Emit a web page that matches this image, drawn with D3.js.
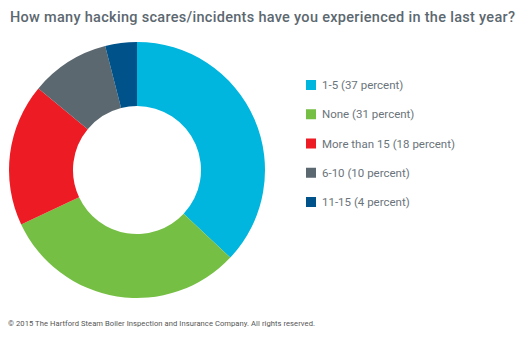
<!DOCTYPE html>
<html>
<head>
<meta charset="utf-8">
<script src="https://cdn.jsdelivr.net/npm/d3@7/dist/d3.min.js"></script>
<style>
  html, body { margin: 0; padding: 0; background: #fff; }
  svg { display: block; }
</style>
</head>
<body>
<svg id="chart" width="526" height="337"></svg>
<script>
// Survey answers: number of hacking scares/incidents in the last year
const categories = ["1-5", "None", "More than 15", "6-10", "11-15"];
const percents = [37, 31, 18, 10, 4];
const colors = ["#00b5de", "#76bf45", "#ed1c24", "#5c6870", "#00538a"];

const titleText = "How many hacking scares/incidents have you experienced in the last year?";
const footerText = "\u00a9 2015 The Hartford Steam Boiler Inspection and Insurance Company. All rights reserved.";

const svg = d3.select("#chart");

svg.append("text")
  .attr("x", 10).attr("y", 22)
  .attr("font-family", "Roboto, 'Noto Sans', sans-serif")
  .attr("font-weight", 500)
  .attr("font-size", 14.5)
  .attr("fill", "#5c6870")
  .attr("textLength", 505)
  .text(titleText);

const cx = 137, cy = 170, rOuter = 128, rInner = 64;

const data = categories.map((c, i) => ({ label: c, value: percents[i], color: colors[i] }));

const pie = d3.pie().value(d => d.value).sort(null);
const arc = d3.arc().innerRadius(rInner).outerRadius(rOuter);

svg.append("g")
  .attr("transform", `translate(${cx},${cy})`)
  .selectAll("path")
  .data(pie(data))
  .join("path")
  .attr("d", arc)
  .attr("fill", d => d.data.color);

// Legend
const legendY = d3.scalePoint().domain(categories).range([85, 202]);
const legend = svg.append("g")
  .selectAll("g")
  .data(data)
  .join("g")
  .attr("transform", d => `translate(306,${legendY(d.label)})`);

legend.append("rect")
  .attr("x", 0).attr("y", -5)
  .attr("width", 10).attr("height", 10)
  .attr("fill", d => d.color);

legend.append("text")
  .attr("x", 16).attr("y", 4)
  .attr("font-family", "Roboto, 'Noto Sans', sans-serif")
  .attr("font-size", 11.5)
  .attr("fill", "#6b747b")
  .text(d => `${d.label} (${d.value} percent)`);

svg.append("text")
  .attr("x", 8).attr("y", 326)
  .attr("font-family", "Roboto, 'Noto Sans', sans-serif")
  .attr("font-size", 7.6)
  .attr("fill", "#555")
  .attr("textLength", 307)
  .text(footerText);
</script>
</body>
</html>
